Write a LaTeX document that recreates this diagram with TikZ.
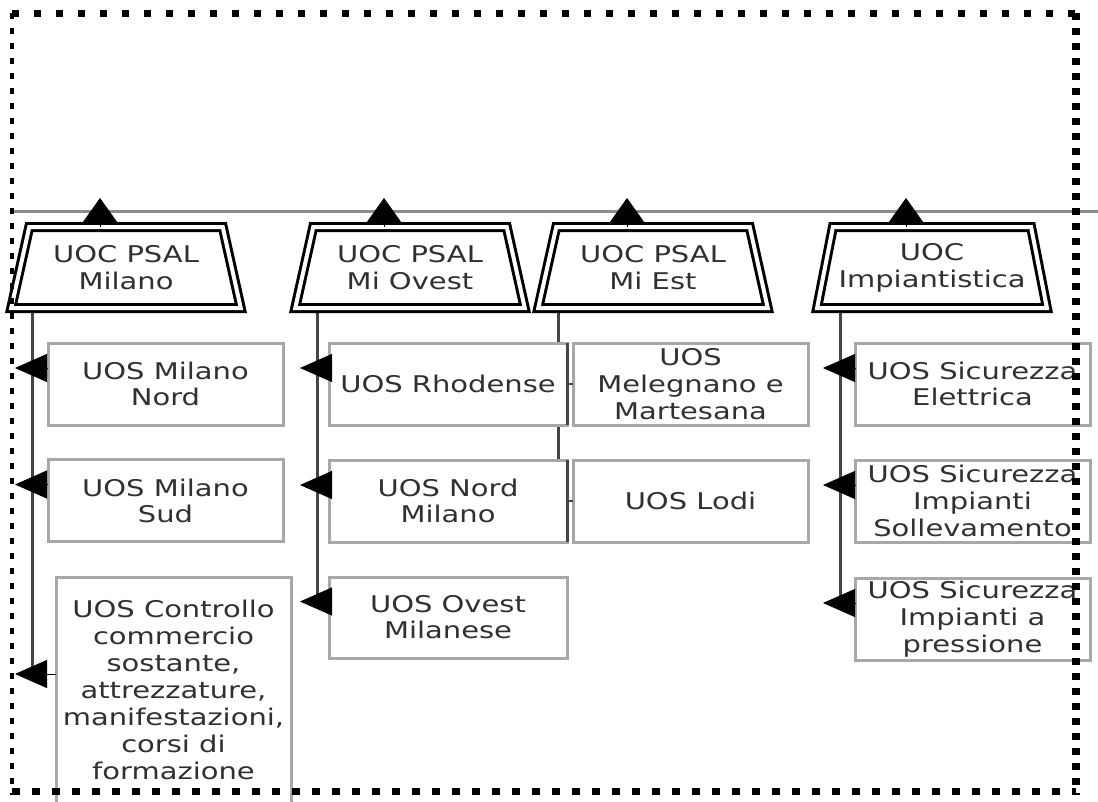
\documentclass[tikz,border=0pt]{standalone}
\usepackage{fontspec}
\setmainfont{DejaVu Sans}[FakeStretch=1.26]
\usetikzlibrary{shapes.geometric,arrows.meta,calc}
\definecolor{txt}{HTML}{303030}
\definecolor{boxgray}{HTML}{A8A8A8}
\definecolor{busgray}{HTML}{454545}
\definecolor{hgray}{HTML}{8C8C8C}
\begin{document}
\begin{tikzpicture}[x=1pt,y=-1pt,
  uoc/.style={trapezium, trapezium stretches=true, trapezium left angle=73, trapezium right angle=73,
    minimum width=230pt, minimum height=81pt, draw=black, line width=3pt, double=white,
    double distance=4pt, fill=white, inner sep=0pt, outer sep=0pt, text=txt, align=center,
    font=\fontsize{23}{27}\selectfont},
  uos/.style={rectangle, draw=boxgray, line width=3pt, fill=white, inner sep=0pt, outer sep=0pt,
    text=txt, align=center, minimum width=235pt, minimum height=82pt, font=\fontsize{23}{26}\selectfont},
  bus/.style={draw=busgray, line width=3pt},
  tick/.style={draw=busgray, line width=2pt},
  hook/.style={line width=1pt, -{Triangle[length=32pt,width=28pt]}},
  uparrow/.style={line width=1pt, -{Triangle[length=24pt,width=34pt]}},
]
\useasboundingbox (0,0) rectangle (1098,801);
% top horizontal line
\coordinate (hl) at (12,211);
\coordinate (hr) at (1098,211);
\draw[draw=hgray, line width=3pt] (hl) -- (hr);

% bus coordinates
\coordinate (mlx) at (32,308);   \coordinate (mlend) at (32,674);   \coordinate (mlt) at (15,0);
\coordinate (mox) at (317,308);  \coordinate (moend) at (317,601.5); \coordinate (mot) at (300,0);
\coordinate (mex) at (558,308);  \coordinate (meend) at (558,501);
\coordinate (imx) at (840,308);  \coordinate (imend) at (840,603);  \coordinate (imt) at (823,0);

% vertical buses
\draw[bus] (mlx) -- (mlend);
\draw[bus] (mox) -- (moend);
\draw[bus] (mex) -- (meend);
\draw[bus] (imx) -- (imend);

% boxes
\node[uos] (mn) at (165.5,384) {UOS Milano\\Nord};
\node[uos] (ms) at (165.5,500.5) {UOS Milano\\Sud};
\node[uos, minimum height=226pt, font=\fontsize{23}{27}\selectfont] (ct) at (173.5,690)
  {UOS Controllo\\commercio\\sostante,\\attrezzature,\\manifestazioni,\\corsi di\\formazione};
\node[uos, minimum width=238pt] (rh) at (448,384) {UOS Rhodense};
\node[uos, minimum width=238pt] (nm) at (448,501) {UOS Nord\\Milano};
\node[uos, minimum width=238pt, minimum height=81pt] (om) at (448,617.5) {UOS Ovest\\Milanese};
\node[uos, font=\fontsize{23}{27}\selectfont] (mel) at (690.5,384) {UOS\\Melegnano e\\Martesana};
\node[uos] (lod) at (690.5,501) {UOS Lodi};
\node[uos] (se) at (972.5,384) {UOS Sicurezza\\Elettrica};
\node[uos, font=\fontsize{23}{27}\selectfont] (ss) at (972.5,501) {UOS Sicurezza\\Impianti\\Sollevamento};
\node[uos, font=\fontsize{23}{27}\selectfont] (sp) at (972.5,619) {UOS Sicurezza\\Impianti a\\pressione};

% Mi Est short links (between the boxes)
\draw[tick] (rh.east) -- (mel.west);
\draw[tick] (nm.east) -- (lod.west);

% darker right edges
\draw[draw=busgray, line width=3pt] (rh.north east) -- (rh.south east);
\draw[draw=busgray, line width=3pt] (nm.north east) -- (nm.south east);

% arrows from boxes to buses
\foreach \b/\t in {mn/mlt,ms/mlt,ct/mlt,rh/mot,nm/mot,om/mot,se/imt,ss/imt,sp/imt}{
  \draw[hook] ($(\b.west)+(0,-16)$) coordinate (s) -- (s -| \t);
}

% trapezoids
\node[uoc] (ml) at (126,267.5) {UOC PSAL\\Milano};
\node[uoc] (mo) at (410,267.5) {UOC PSAL\\Mi Ovest};
\node[uoc] (me) at (653,267.5) {UOC PSAL\\Mi Est};
\node[uoc] (im) at (932,267.5) {UOC\\Impiantistica};

% arrows up to the line
\foreach \t in {ml,mo,me,im}{
  \draw[uparrow] ($(\t.north)+(-26,0)$) -- ++(0,-29);
}

% dotted frame
\draw[line width=7pt, dash pattern=on 7pt off 15pt] (12,13) -- (1076,13);
\draw[line width=4pt, dash pattern=on 6pt off 9pt] (12,13) -- (12,795);
\draw[line width=8pt, dash pattern=on 7pt off 8pt] (1076,13) -- (1076,795);
\draw[line width=7pt, dash pattern=on 8pt off 12pt] (12,791) -- (1076,791);
\end{tikzpicture}
\end{document}
